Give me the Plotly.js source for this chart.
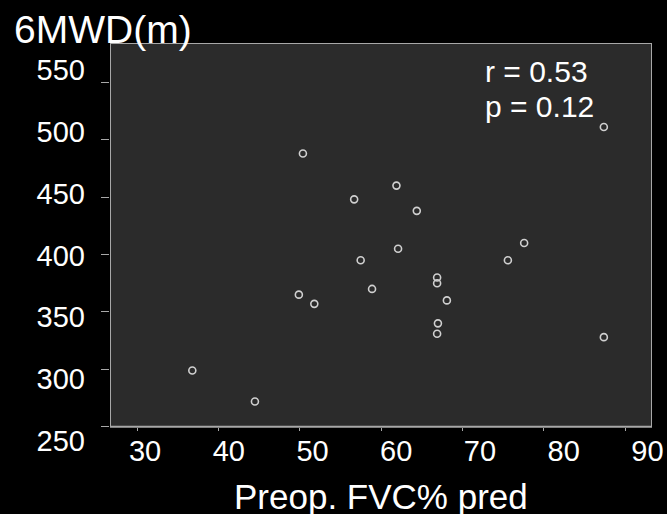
<!DOCTYPE html>
<html>
<head>
<meta charset="utf-8">
<script src="https://cdn.plot.ly/plotly-3.0.1.min.js"></script>
<style>html,body{margin:0;padding:0;background:#000;}#chart{width:667px;height:514px;}</style>
</head>
<body>
<div id="chart"></div>
<script>
// Preop. FVC% pred
var fvcPred = [87.4, 50.4, 61.9, 56.7, 64.4, 62.1, 57.5, 77.6, 75.6, 66.9, 66.9, 68.1, 58.9, 49.9, 51.8, 67.0, 66.9, 87.4, 36.8, 44.5];
// 6MWD (m)
var walkDist = [511, 488, 460, 448, 438, 405, 395, 410, 395, 380, 375, 360, 370, 365, 357, 340, 331, 328, 299, 272];
var xTicks = [30, 40, 50, 60, 70, 80, 90];
var yTicks = [250, 300, 350, 400, 450, 500, 550];
var statLines = ["r = 0.53", "p = 0.12"];
var yTitle = "6MWD(m)";
var xTitle = "Preop. FVC% pred";

// axis ranges (marks) and tick-label ranges (labels sit on a slightly wider scale in the original)
var xRange = [26.68, 93.32];
var yRange = [229.7, 584.2];
var xLabelRange = [25.82, 90.54];
var yLabelRange = [242.5, 572.1];
var yFloor = 250;

var font = "Liberation Sans, Arial, sans-serif";
var axisGray = "#a8a8a8";
var plotH = 407, plotBottom = 450, plotL = 110, plotW = 542;
function py(p) { return (plotBottom - p) / plotH; }
function px(p) { return (p - plotL) / plotW; }
var xAxisPos = (yFloor - yRange[0]) / (yRange[1] - yRange[0]);

var traces = [
  {x: fvcPred, y: walkDist, type: "scatter", mode: "markers",
   marker: {symbol: "circle-open", size: 7, color: "#d0d0d0", line: {width: 1.6, color: "#d0d0d0"}},
   hoverinfo: "skip"},
  {x: [], y: [], xaxis: "x2", yaxis: "y", type: "scatter", mode: "markers", hoverinfo: "skip"},
  {x: [], y: [], xaxis: "x", yaxis: "y2", type: "scatter", mode: "markers", hoverinfo: "skip"}
];
var layout = {
  width: 667, height: 514,
  paper_bgcolor: "#000", plot_bgcolor: "#000",
  margin: {l: 110, r: 15, t: 43, b: 64},
  showlegend: false,
  font: {family: font, color: "#fff"},
  xaxis: {
    range: xRange, tickvals: xTicks, showticklabels: false,
    showgrid: false, zeroline: false, showline: false,
    anchor: "free", position: xAxisPos,
    ticks: "outside", ticklen: 3, tickcolor: axisGray, tickwidth: 1
  },
  xaxis2: {
    overlaying: "x", anchor: "free", position: xAxisPos, side: "bottom",
    range: xLabelRange, tickvals: xTicks, ticktext: xTicks.map(String),
    showgrid: false, zeroline: false, showline: false, ticks: "",
    tickfont: {size: 29, color: "#fff", family: font}, ticklabelstandoff: 4
  },
  yaxis: {
    range: yRange, tickvals: yTicks, showticklabels: false,
    showgrid: false, zeroline: false, showline: false,
    ticks: "outside", ticklen: 8, tickcolor: axisGray, tickwidth: 1
  },
  yaxis2: {
    overlaying: "y", anchor: "x", side: "left",
    range: yLabelRange, tickvals: yTicks, ticktext: yTicks.map(String),
    showgrid: false, zeroline: false, showline: false, ticks: "",
    tickfont: {size: 29, color: "#fff", family: font}, ticklabelstandoff: 24
  },
  shapes: [
    {type: "rect", layer: "below", xref: "x", yref: "y",
     x0: xRange[0], x1: xRange[1], y0: yFloor, y1: yRange[1],
     fillcolor: "#2b2b2b", line: {color: axisGray, width: 2}}
  ],
  annotations: [
    {text: yTitle, xref: "paper", yref: "paper", x: px(12), y: py(30), xanchor: "left", yanchor: "middle",
     showarrow: false, font: {size: 39, color: "#fff", family: font}},
    {text: statLines[0], xref: "paper", yref: "paper", x: px(483), y: py(71), xanchor: "left", yanchor: "middle",
     showarrow: false, font: {size: 30, color: "#fff", family: font}},
    {text: statLines[1], xref: "paper", yref: "paper", x: px(483), y: py(107), xanchor: "left", yanchor: "middle",
     showarrow: false, font: {size: 30, color: "#fff", family: font}},
    {text: xTitle, xref: "paper", yref: "paper", x: px(381), y: py(496), xanchor: "center", yanchor: "middle",
     showarrow: false, font: {size: 35, color: "#fff", family: font}}
  ]
};
Plotly.newPlot("chart", traces, layout, {displayModeBar: false, staticPlot: true});
</script>
</body>
</html>
